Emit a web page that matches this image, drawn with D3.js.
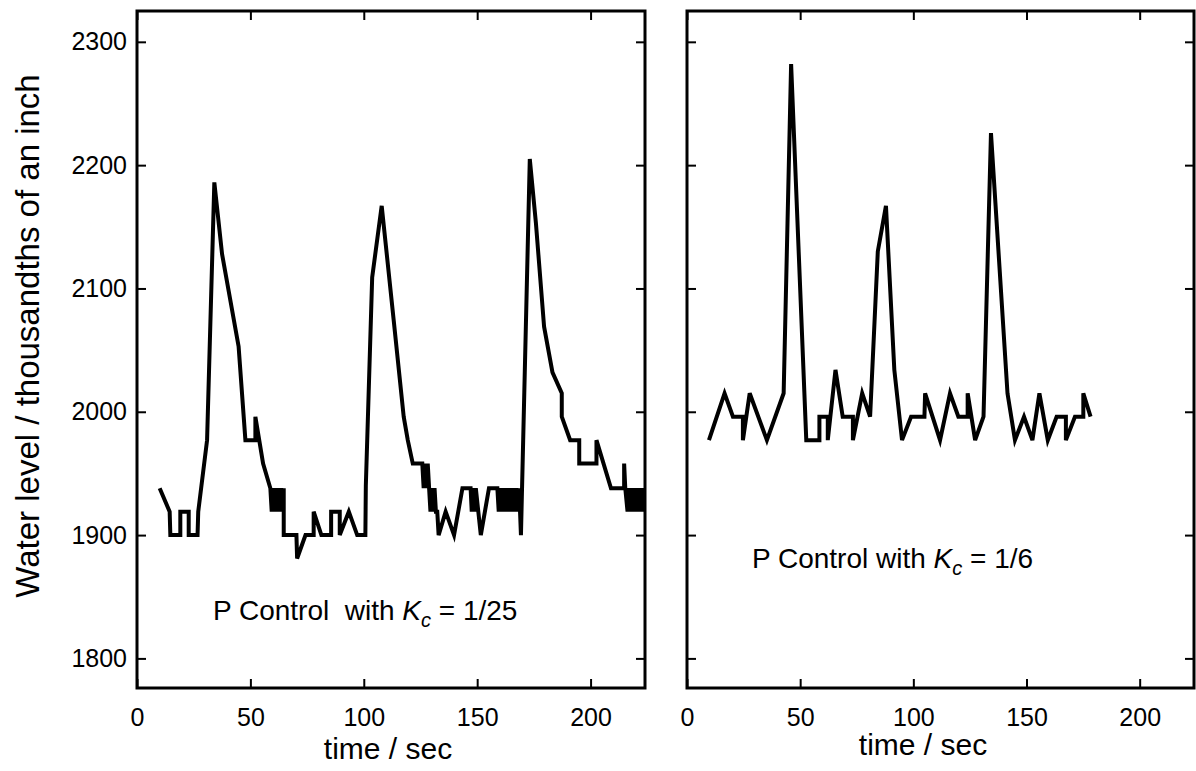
<!DOCTYPE html>
<html>
<head>
<meta charset="utf-8">
<script src="https://cdn.jsdelivr.net/npm/d3@7"></script>
<style>
  body { margin: 0; background: #fff; }
  text { font-family: "Liberation Sans", Arial, Helvetica, sans-serif; fill: #000; }
</style>
</head>
<body>
<div id="chart"></div>
<script>
// Kc = 1/25 run: [time (s), water level (thousandths of an inch)]
const slowRun = [
  [10.0, 1938], [14.4, 1919], [14.7, 1900], [19.1, 1900], [19.1, 1919], [22.8, 1919],
  [22.8, 1900], [26.7, 1900], [27.0, 1919], [30.9, 1977], [34.1, 2186], [37.5, 2128],
  [44.8, 2053], [47.8, 1977], [52.2, 1977], [52.2, 1996], [55.6, 1958], [58.8, 1938],
  [59.4, 1919], [60.0, 1938], [60.6, 1919], [61.2, 1938], [61.8, 1919], [62.4, 1938],
  [63.0, 1919], [63.6, 1938], [64.2, 1919], [64.7, 1938], [64.7, 1900], [70.3, 1900],
  [70.6, 1881], [74.3, 1900], [77.9, 1900], [77.9, 1919], [81.3, 1900], [85.6, 1900],
  [85.6, 1919], [89.4, 1919], [89.4, 1900], [93.4, 1919], [97.1, 1900], [100.7, 1900],
  [100.9, 1940], [103.7, 2109], [107.9, 2167], [113.2, 2074], [117.6, 1996], [119.4, 1977],
  [121.6, 1958], [125.8, 1958], [126.4, 1938], [127.0, 1958], [127.6, 1938], [128.2, 1958],
  [128.8, 1938], [129.4, 1919], [130.0, 1938], [130.6, 1919], [131.2, 1938], [131.8, 1919],
  [132.4, 1919], [133.0, 1900], [136.1, 1919], [139.8, 1900], [143.5, 1938], [147.1, 1938],
  [147.6, 1919], [148.2, 1938], [148.8, 1919], [149.4, 1938], [151.6, 1900], [155.2, 1938],
  [158.9, 1938], [159.5, 1919], [160.1, 1938], [160.7, 1919], [161.3, 1938], [161.9, 1919],
  [162.5, 1938], [163.1, 1919], [163.7, 1938], [164.3, 1919], [164.9, 1938], [165.5, 1919],
  [166.1, 1938], [166.7, 1919], [167.3, 1938], [167.9, 1919], [168.5, 1938], [169.3, 1900],
  [173.2, 2205], [175.9, 2153], [179.5, 2069], [183.2, 2032], [187.3, 2015], [187.3, 1996],
  [191.0, 1977], [195.0, 1977], [195.0, 1958], [202.6, 1958], [202.6, 1977], [209.0, 1938],
  [214.8, 1938], [214.8, 1958], [215.3, 1938], [216.3, 1919], [216.9, 1938], [217.5, 1919],
  [218.1, 1938], [218.7, 1919], [219.3, 1938], [219.9, 1919], [220.5, 1938], [221.1, 1919],
  [221.7, 1938], [222.3, 1919], [222.9, 1938], [223.5, 1919], [224.0, 1938]
];

// Kc = 1/6 run
const fastRun = [
  [9.7, 1977], [16.6, 2015], [20.3, 1996], [24.7, 1996], [24.7, 1977], [27.7, 2015],
  [35.3, 1977], [42.7, 2015], [46.0, 2282], [52.7, 1977], [58.5, 1977], [58.5, 1996],
  [62.2, 1996], [62.2, 1977], [65.6, 2034], [68.8, 1996], [73.3, 1996], [73.3, 1977],
  [77.4, 2015], [80.9, 1996], [84.3, 2130], [87.9, 2167], [91.6, 2034], [95.0, 1977],
  [99.0, 1996], [104.9, 1996], [105.2, 2015], [111.8, 1977], [116.2, 2015], [119.9, 1996],
  [124.0, 1996], [124.0, 2015], [127.3, 1977], [131.0, 1996], [134.3, 2226], [141.6, 2015],
  [144.9, 1977], [148.9, 1996], [152.6, 1977], [155.7, 2015], [159.4, 1977], [163.3, 1996],
  [167.4, 1996], [167.4, 1977], [171.4, 1996], [175.1, 1996], [175.1, 2015], [178.3, 1996]
];

const xTicks = [0, 50, 100, 150, 200];
const yTicks = [1800, 1900, 2000, 2100, 2200, 2300];

const W = 1196, H = 771;
const plotTop = 11, plotBottom = 688;
const panels = [
  { left: 137, right: 645, data: slowRun, labels: true,  note: ["P Control  with ", "1/25"], noteX: 213, noteY: 620, xLabelX: 388, xLabelY: 759 },
  { left: 687, right: 1194, data: fastRun, labels: false, note: ["P Control with ", "1/6"],  noteX: 752, noteY: 568, xLabelX: 923, xLabelY: 755 }
];

const svg = d3.select("#chart").append("svg")
  .attr("width", W)
  .attr("height", H);

panels.forEach((p, i) => {
  const x = d3.scaleLinear().domain([0, 224]).range([p.left, p.right]);
  const y = d3.scaleLinear().domain([1776, 2325]).range([plotBottom, plotTop]);
  const tickLen = 9;

  // clip the trace to the frame
  svg.append("clipPath").attr("id", "clip" + i)
    .append("rect")
    .attr("x", p.left).attr("y", plotTop)
    .attr("width", p.right - p.left).attr("height", plotBottom - plotTop);

  // inward ticks on all four sides
  const g = svg.append("g");
  g.append("g")
    .attr("transform", `translate(0,${plotBottom})`)
    .call(d3.axisBottom(x).tickValues(xTicks).tickSize(-tickLen).tickSizeOuter(0)
      .tickFormat(d3.format("d")))
    .call(a => a.select(".domain").remove())
    .call(a => a.selectAll("line").attr("stroke-width", 2))
    .call(a => a.selectAll("text").attr("y", 20).attr("dy", "0.71em").style("font-size", "25px"));
  g.append("g")
    .attr("transform", `translate(0,${plotTop})`)
    .call(d3.axisTop(x).tickValues(xTicks).tickSize(-tickLen).tickFormat(""))
    .call(a => a.select(".domain").remove())
    .call(a => a.selectAll("line").attr("stroke-width", 2));
  g.append("g")
    .attr("transform", `translate(${p.left},0)`)
    .call(d3.axisLeft(y).tickValues(yTicks).tickSize(-tickLen)
      .tickFormat(p.labels ? d3.format("d") : ""))
    .call(a => a.select(".domain").remove())
    .call(a => a.selectAll("line").attr("stroke-width", 2))
    .call(a => a.selectAll("text").attr("x", -10).style("font-size", "25px"));
  g.append("g")
    .attr("transform", `translate(${p.right},0)`)
    .call(d3.axisRight(y).tickValues(yTicks).tickSize(-tickLen).tickFormat(""))
    .call(a => a.select(".domain").remove())
    .call(a => a.selectAll("line").attr("stroke-width", 2));

  // trace
  const line = d3.line().x(d => x(d[0])).y(d => y(d[1]));
  svg.append("path")
    .datum(p.data)
    .attr("clip-path", `url(#clip${i})`)
    .attr("fill", "none")
    .attr("stroke", "#000")
    .attr("stroke-width", 4)
    .attr("d", line);

  // frame
  svg.append("rect")
    .attr("x", p.left).attr("y", plotTop)
    .attr("width", p.right - p.left).attr("height", plotBottom - plotTop)
    .attr("fill", "none")
    .attr("stroke", "#000")
    .attr("stroke-width", 3);

  // x label
  svg.append("text")
    .attr("x", p.xLabelX)
    .attr("y", p.xLabelY)
    .attr("text-anchor", "middle")
    .style("font-size", "30px")
    .text("time / sec");

  // annotation
  const t = svg.append("text")
    .attr("x", p.noteX)
    .attr("y", p.noteY)
    .style("font-size", "28px")
    .style("white-space", "pre")
    .attr("xml:space", "preserve");
  t.append("tspan").text(p.note[0]);
  t.append("tspan").style("font-style", "italic").text("K");
  t.append("tspan").style("font-style", "italic").style("font-size", "20px")
    .attr("dy", 7).text("c");
  t.append("tspan").attr("dy", -7).text(" = " + p.note[1]);
});

// y label
svg.append("text")
  .attr("transform", "translate(39,336) rotate(-90)")
  .attr("text-anchor", "middle")
  .style("font-size", "33px")
  .text("Water level / thousandths of an inch");
</script>
</body>
</html>
